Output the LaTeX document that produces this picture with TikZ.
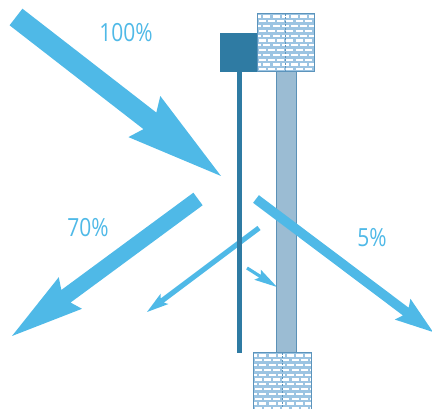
\documentclass[tikz,border=0pt]{standalone}
\usepackage{fontspec}
\setmainfont{Open Sans}
\usetikzlibrary{calc}

\definecolor{rayblue}{HTML}{4FB9E7}
\definecolor{framedark}{HTML}{2F7BA3}
\definecolor{paneblue}{HTML}{9BBCD3}
\definecolor{paneedge}{HTML}{5B91B7}
\definecolor{brickbg}{HTML}{9CC4E2}
\definecolor{brickedge}{HTML}{5C94BC}

\tikzset{
  ray/.style={fill=rayblue},
  pct/.style={text=rayblue, font=\fontsize{25}{25}\selectfont, xscale=0.84, inner sep=0pt},
  frame/.style={fill=framedark},
  pane/.style={fill=paneblue, draw=paneedge, line width=0.8pt},
}

% block arrow: tail centre, tip, shaft half width, head half width,
% head length, barb sweep
\newcommand\blockarrow[6]{%
  \coordinate (bt) at (#1);
  \coordinate (bh) at (#2);
  \coordinate (bb) at ($(bh)!#5pt!(bt)$);
  \coordinate (bi) at ($(bh)!{#5pt-#6pt}!(bt)$);
  \fill[ray] ($(bt)!#3pt!90:(bh)$) -- ($(bi)!#3pt!90:(bh)$)
    -- ($(bb)!#4pt!90:(bh)$) -- (bh) -- ($(bb)!#4pt!-90:(bh)$)
    -- ($(bi)!#3pt!-90:(bh)$) -- ($(bt)!#3pt!-90:(bh)$) -- cycle;
}

% brick-faced wall block between two corners (x1,y1) and (x2,y2)
\newcommand\brickblock[4]{%
  \begin{scope}
    \clip (#1,#2) rectangle (#3,#4);
    \fill[brickbg] (#1,#2) rectangle (#3,#4);
    \foreach \r in {0,...,12}{
      \pgfmathsetmacro\yy{#2+\r*4.8+1.4}
      \pgfmathsetmacro\off{mod(\r,2)*4.6-4}
      \foreach \c in {0,...,7}{
        \fill[white] ({#1+\off+\c*9.2+1.2},\yy) rectangle ++(7.0,2.3);
      }
    }
    \draw[brickedge, line width=0.6pt, dash pattern=on 2pt off 1.5pt]
      ({(#1+#3)/2},#2) -- ({(#1+#3)/2},#4);
  \end{scope}
  \draw[brickedge, line width=1pt] (#1,#2) rectangle (#3,#4);
}

\begin{document}
\begin{tikzpicture}[x=1pt, y=-1pt]
  \useasboundingbox (0,0) rectangle (432,409);

  % incoming and reflected radiation
  \blockarrow{16,17}{221,176}{10.5}{26}{97}{7}
  \blockarrow{198,199}{12,336}{7.8}{19.6}{72.5}{5.5}
  \blockarrow{259,228}{147,312}{2.6}{6.5}{22}{3}
  \blockarrow{247,268}{277,287}{1.6}{6}{23}{3}

  % window frame: head block, sash and glazing
  \fill[frame] (220,33) rectangle (258,72);
  \fill[frame] (237,72) rectangle (241.5,353);
  \draw[pane] (276,71) rectangle (296,353);
  \brickblock{257}{14}{314}{72}
  \brickblock{253}{353}{311}{410}

  % transmitted radiation
  \blockarrow{256,199}{433,332}{4.8}{13}{38}{4}

  \node[pct] (lbl100) at (126,33) {100\%};
  \node[pct] (lbl70) at (88,228) {70\%};
  \node[pct] (lbl5) at (372,238) {5\%};
\end{tikzpicture}
\end{document}
